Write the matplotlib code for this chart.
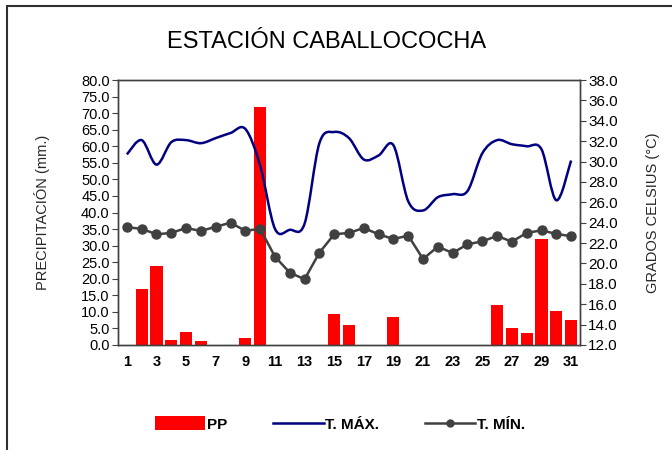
import matplotlib
matplotlib.use('Agg')
import matplotlib.pyplot as plt
from matplotlib.path import Path
from matplotlib.patches import PathPatch, Rectangle, Patch
from matplotlib.lines import Line2D
import numpy as np

plt.rcParams['font.family'] = ['Liberation Sans', 'DejaVu Sans']

# data
days = list(range(1, 32))
pp = [0, 17, 24, 1.5, 3.8, 1.3, 0, 0, 2.2, 72, 0, 0, 0, 0, 9.3, 6, 0, 0, 8.6, 0,
      0, 0, 0, 0, 0, 12.1, 5, 3.5, 32, 10.4, 7.5]
tmax = [30.7, 32.1, 29.7, 31.9, 32.1, 31.8, 32.3, 32.8, 33.2, 29.6, 23.4, 23.3, 23.9,
        31.8, 32.9, 32.3, 30.2, 30.6, 31.6, 26.1, 25.2, 26.5, 26.8, 27.1, 30.8, 32.1,
        31.7, 31.5, 31.2, 26.2, 30.1]
tmin = [23.55, 23.4, 22.86, 23.0, 23.48, 23.19, 23.6, 24.0, 23.2, 23.4, 20.67, 19.1,
        18.45, 21.06, 22.86, 23.0, 23.48, 22.86, 22.4, 22.73, 20.44, 21.65, 21.03,
        21.88, 22.17, 22.7, 22.14, 23.0, 23.25, 22.9, 22.67]
xticks = list(range(1, 32, 2))
title = 'ESTACIÓN CABALLOCOCHA'


def smooth_path(x, y):
    # excel-like smoothed line: bezier segments through the data points
    x = np.asarray(x, float)
    y = np.asarray(y, float)
    verts = [(x[0], y[0])]
    codes = [Path.MOVETO]
    n = len(x)
    for i in range(n - 1):
        p0 = np.array([x[max(i - 1, 0)], y[max(i - 1, 0)]])
        p1 = np.array([x[i], y[i]])
        p2 = np.array([x[i + 1], y[i + 1]])
        p3 = np.array([x[min(i + 2, n - 1)], y[min(i + 2, n - 1)]])
        c1 = p1 + (p2 - p0) / 6.0
        c2 = p2 - (p3 - p1) / 6.0
        verts += [tuple(c1), tuple(c2), tuple(p2)]
        codes += [Path.CURVE4] * 3
    return Path(verts, codes)


fig = plt.figure(figsize=(6.72, 4.5), dpi=100)
ax = fig.add_axes([118 / 672, 1 - 345 / 450, 462 / 672, 265 / 450])
ax2 = ax.twinx()

ax.bar(days, pp, width=0.82, color='#ff0000', zorder=2)
ax.set_xlim(0.4, 31.6)
ax.set_ylim(0, 80)
ax.set_yticks(np.arange(0, 80.1, 5))
ax.set_yticklabels(['%.1f' % v for v in np.arange(0, 80.1, 5)], fontsize=10.5)
ax.set_xticks(xticks)
ax.set_xticklabels([str(d) for d in xticks], fontsize=10.5, fontweight='bold')
ax.tick_params(axis='x', length=0, pad=7)
ax.tick_params(axis='y', length=4, pad=2, color='#404040')
ax.set_ylabel('PRECIPITACIÓN (mm.)', fontsize=10.5, labelpad=22, color='#262626')

ax2.add_patch(PathPatch(smooth_path(days, tmax), facecolor='none',
                        edgecolor='#000080', lw=1.8, zorder=3))
ax2.plot(days, tmin, color='#404040', lw=1.8, marker='o', markersize=6.5, zorder=4)
ax2.set_ylim(12, 38)
ax2.set_yticks(np.arange(12, 38.1, 2))
ax2.set_yticklabels(['%.1f' % v for v in np.arange(12, 38.1, 2)], fontsize=11)
ax2.tick_params(axis='y', length=4, pad=2, color='#404040')
ax2.set_ylabel('GRADOS CELSIUS (°C)', fontsize=10.5, labelpad=20, color='#262626')

for a in (ax, ax2):
    for s in a.spines.values():
        s.set_color('#404040')
        s.set_linewidth(1.0)

fig.text(327 / 672, 1 - 42 / 450, title, fontsize=17, ha='center', va='center')

handles = [Patch(facecolor='#ff0000', edgecolor='none'),
           Line2D([], [], color='#000080', lw=1.8),
           Line2D([], [], color='#404040', lw=1.8, marker='o', markersize=5)]
fig.legend(handles, ['PP', 'T. MÁX.', 'T. MÍN.'], loc='center',
           bbox_to_anchor=(340 / 672, 1 - 424 / 450), ncol=3, frameon=False,
           prop={'weight': 'bold', 'size': 11}, handlelength=3.3,
           handleheight=1.0, handletextpad=0.1, columnspacing=3.0)

fig.add_artist(Rectangle((7 / 672, -0.1), 1.2, 1.1 - 6 / 450, transform=fig.transFigure,
                         fill=False, edgecolor='#303030', lw=1.5))

fig.savefig('out.png', dpi=100)
